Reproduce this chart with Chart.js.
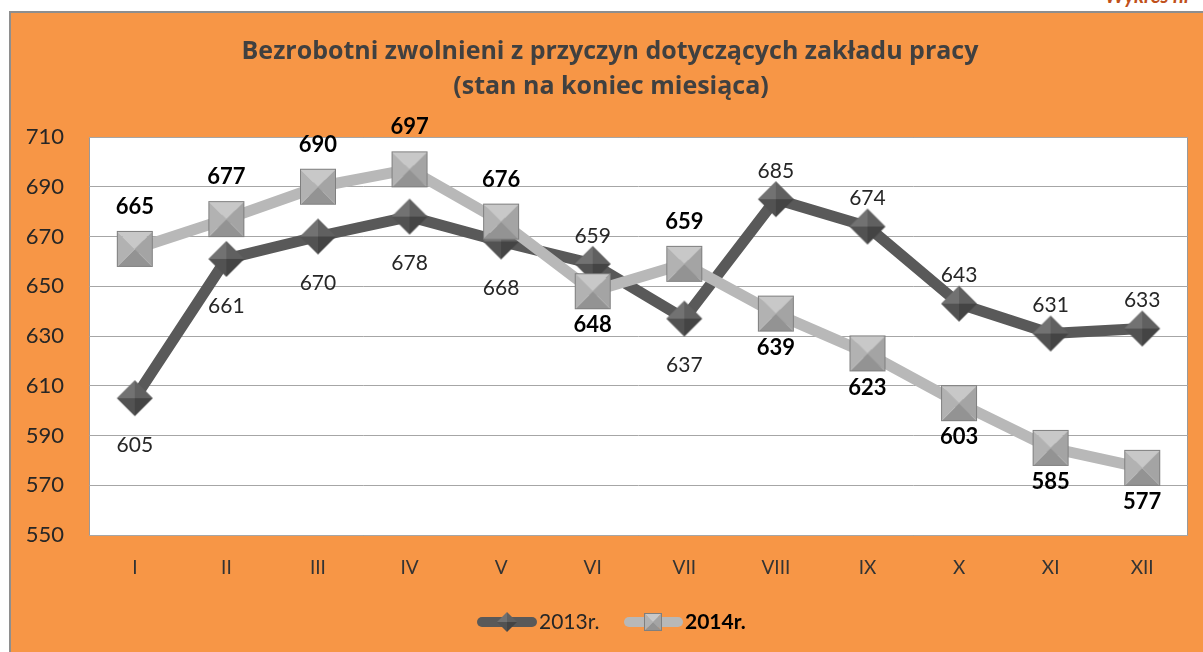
<!DOCTYPE html>
<html>
<head>
<meta charset="utf-8">
<script src="https://cdn.jsdelivr.net/npm/chart.js@4/dist/chart.umd.min.js"></script>
<style>
  body { margin: 0; width: 1203px; height: 652px; overflow: hidden; background: #fff; position: relative; }
  .frame { position: absolute; left: 9px; top: 11px; width: 1210px; height: 660px; background: #F79646; border: 2px solid #8e8e8e; }
  .tag { position: absolute; right: 12px; top: -17px; font: italic bold 20px Lato, sans-serif; color: #c0501a; }
  #chart { position: absolute; left: 0; top: 0; }
</style>
</head>
<body>
<div class="frame"></div>
<div class="tag">Wykres nr</div>
<canvas id="chart" width="1203" height="652"></canvas>
<script>
// Chart data
const months = ['I', 'II', 'III', 'IV', 'V', 'VI', 'VII', 'VIII', 'IX', 'X', 'XI', 'XII'];
const values2013 = [605, 661, 670, 678, 668, 659, 637, 685, 674, 643, 631, 633];
const values2014 = [665, 677, 690, 697, 676, 648, 659, 639, 623, 603, 585, 577];
const yTicks = [550, 570, 590, 610, 630, 650, 670, 690, 710];
// where each value label sits relative to its point
const side2013 = ['b', 'b', 'b', 'b', 'b', 't', 'b', 't', 't', 't', 't', 't'];
const side2014 = ['t', 't', 't', 't', 't', 'b', 't', 'b', 'b', 'b', 'b', 'b'];

const FONT = 'Lato, "Open Sans", sans-serif';

// beveled diamond marker
function makeDiamond(size) {
    const c = document.createElement('canvas');
    c.width = c.height = size + 4;
    const g = c.getContext('2d');
    const m = (size + 4) / 2, r = size / 2;
    const T = [m, m - r], R = [m + r, m], B = [m, m + r], L = [m - r, m], C = [m, m];
    const faces = [[L, T, '#727272'], [T, R, '#606060'], [R, B, '#444444'], [B, L, '#525252']];
    faces.forEach(f => {
        g.beginPath();
        g.moveTo(f[0][0], f[0][1]); g.lineTo(f[1][0], f[1][1]); g.lineTo(C[0], C[1]);
        g.closePath();
        g.fillStyle = f[2];
        g.fill();
    });
    return c;
}

// beveled square marker
function makeSquare(size) {
    const c = document.createElement('canvas');
    c.width = c.height = size + 4;
    const g = c.getContext('2d');
    const a = 2, b = size + 2, m = (size + 4) / 2;
    const faces = [
        [[a, a], [b, a], '#c8c8c8'],
        [[b, a], [b, b], '#a4a4a4'],
        [[b, b], [a, b], '#939393'],
        [[a, b], [a, a], '#b2b2b2']
    ];
    faces.forEach(f => {
        g.beginPath();
        g.moveTo(f[0][0], f[0][1]); g.lineTo(f[1][0], f[1][1]); g.lineTo(m, m);
        g.closePath();
        g.fillStyle = f[2];
        g.fill();
    });
    g.strokeStyle = '#7f7f7f';
    g.lineWidth = 1;
    g.strokeRect(a + 0.5, a + 0.5, size - 1, size - 1);
    return c;
}

const diamond = makeDiamond(36);
const square = makeSquare(36);
const diamondSmall = makeDiamond(20);
const squareSmall = makeSquare(18);

// white plot area with border
const plotBg = {
    id: 'plotBg',
    beforeDraw(chart) {
        const { ctx, chartArea: a } = chart;
        ctx.save();
        ctx.fillStyle = '#ffffff';
        ctx.fillRect(a.left, a.top, a.right - a.left, a.bottom - a.top);
        ctx.strokeStyle = '#9a9a9a';
        ctx.lineWidth = 1;
        ctx.strokeRect(a.left + 0.5, a.top + 0.5, a.right - a.left - 1, a.bottom - a.top);
        ctx.restore();
    }
};

// title, value labels and legend
const extras = {
    id: 'extras',
    afterDatasetsDraw(chart) {
        const ctx = chart.ctx;
        ctx.save();
        ctx.textAlign = 'center';
        ctx.textBaseline = 'middle';
        chart.data.datasets.forEach((ds, i) => {
            const meta = chart.getDatasetMeta(i);
            meta.data.forEach((pt, j) => {
                const top = ds.sides[j] === 't';
                const dy = ds.label === '2013r.' ? (top ? -28 : 47) : (top ? -42 : 34);
                ctx.font = ds.label === '2013r.' ? '21px ' + FONT : 'bold 22px ' + FONT;
                ctx.fillStyle = ds.label === '2013r.' ? '#262626' : '#000000';
                ctx.fillText(String(ds.data[j]), pt.x, pt.y + dy);
            });
        });
        ctx.restore();
    },
    afterDraw(chart) {
        const ctx = chart.ctx;
        ctx.save();
        ctx.fillStyle = '#404040';
        ctx.font = 'bold 25px "Open Sans", Lato, sans-serif';
        ctx.textAlign = 'center';
        ctx.textBaseline = 'middle';
        ctx.fillText('Bezrobotni zwolnieni z przyczyn dotyczących zakładu pracy', 610, 52);
        ctx.fillText('(stan na koniec miesiąca)', 611, 87);

        // legend
        const y = 622;
        ctx.lineCap = 'round';
        ctx.lineWidth = 10;
        ctx.strokeStyle = '#595959';
        ctx.beginPath(); ctx.moveTo(482, y); ctx.lineTo(532, y); ctx.stroke();
        ctx.drawImage(diamondSmall, 507 - diamondSmall.width / 2, y - diamondSmall.height / 2);
        ctx.strokeStyle = '#b8b8b8';
        ctx.beginPath(); ctx.moveTo(629, y); ctx.lineTo(678, y); ctx.stroke();
        ctx.drawImage(squareSmall, 653 - squareSmall.width / 2, y - squareSmall.height / 2);
        ctx.textAlign = 'left';
        ctx.fillStyle = '#262626';
        ctx.font = '21px ' + FONT;
        ctx.fillText('2013r.', 539, y);
        ctx.fillStyle = '#000000';
        ctx.font = 'bold 21px ' + FONT;
        ctx.fillText('2014r.', 685, y);
        ctx.restore();
    }
};

const ctx = document.getElementById('chart').getContext('2d');
const chart = new Chart(ctx, {
    type: 'line',
    data: {
        labels: months,
        datasets: [
            {
                label: '2013r.',
                data: values2013,
                sides: side2013,
                borderColor: '#595959',
                borderWidth: 11,
                pointStyle: diamond,
                order: 1
            },
            {
                label: '2014r.',
                data: values2014,
                sides: side2014,
                borderColor: '#b8b8b8',
                borderWidth: 11,
                pointStyle: square,
                order: 0
            }
        ]
    },
    options: {
        responsive: false,
        animation: false,
        devicePixelRatio: 1,
        layout: { padding: { top: 137, right: 15, left: 0, bottom: 0 } },
        elements: { line: { tension: 0, borderJoinStyle: 'round' } },
        plugins: {
            legend: { display: false },
            title: { display: false },
            tooltip: { enabled: false }
        },
        scales: {
            x: {
                offset: true,
                grid: { display: false, drawTicks: false },
                border: { display: false },
                ticks: { color: '#333333', font: { size: 19, family: FONT }, padding: 21 },
                afterFit(scale) { scale.height = 117; }
            },
            y: {
                min: 550,
                max: 710,
                afterBuildTicks(scale) { scale.ticks = yTicks.map(v => ({ value: v })); },
                grid: { color: '#a6a6a6', lineWidth: 1, drawTicks: false },
                border: { display: false },
                ticks: { color: '#262626', font: { size: 22, family: FONT }, padding: 25 },
                afterFit(scale) { scale.width = 89; }
            }
        }
    },
    plugins: [plotBg, extras]
});
</script>
</body>
</html>
